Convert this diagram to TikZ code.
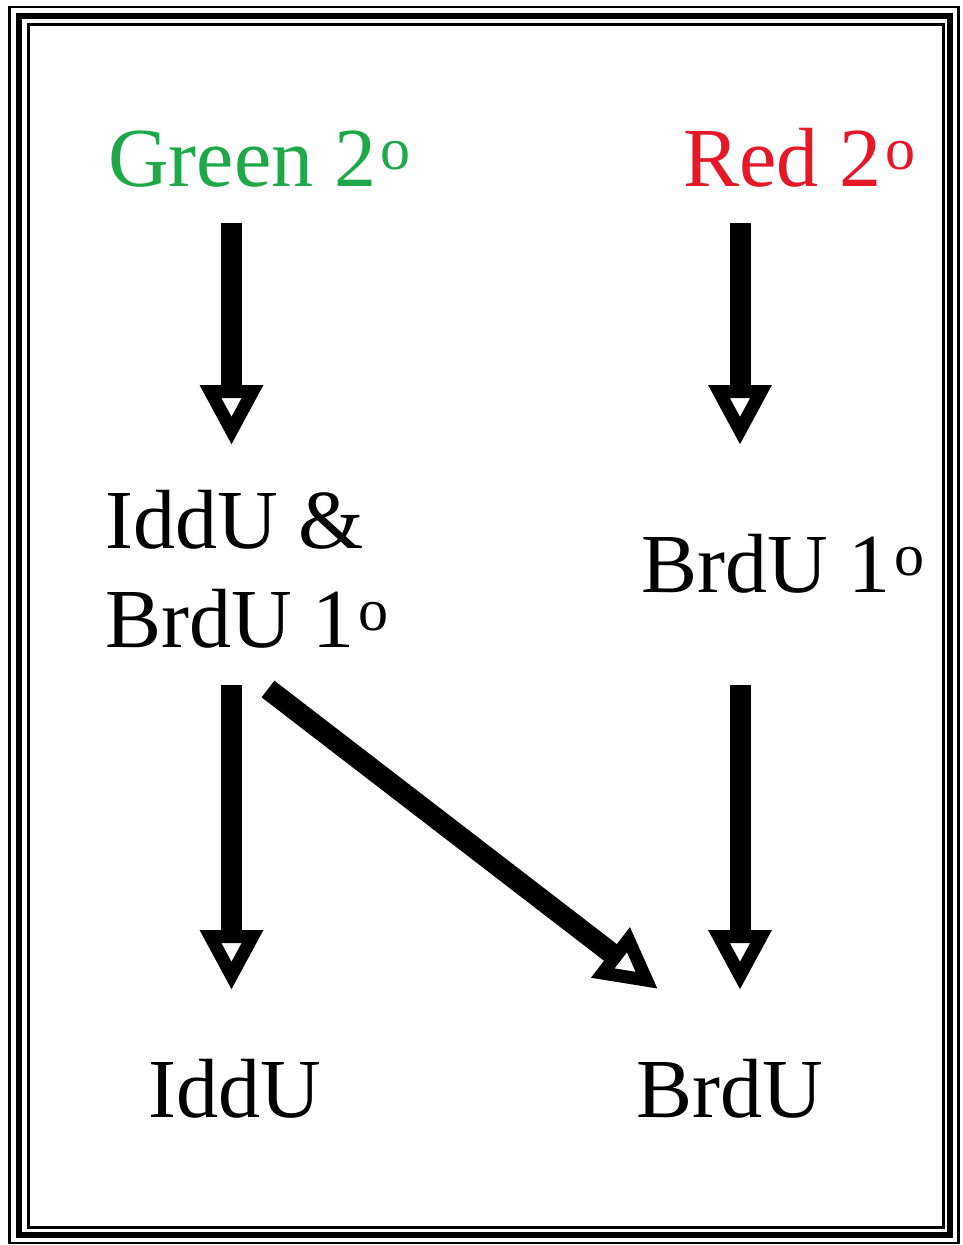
\documentclass[tikz,border=0pt]{standalone}
\usepackage{fontspec}
\setmainfont{Liberation Serif}
\usetikzlibrary{arrows.meta}
\definecolor{labgreen}{RGB}{30,168,74}
\definecolor{labred}{RGB}{230,24,40}
\newcommand\supo{\hspace{4pt}\raisebox{17pt}{\fontsize{60}{60}\selectfont o}}
\tikzset{
  lbl/.style={inner sep=0pt, anchor=base west, font=\fontsize{84}{99}\selectfont},
  bigarrow/.style={line width=21pt, line cap=butt,
    -{Triangle[open, length=60pt, width=60pt, line width=13pt]}},
}
\begin{document}
\begin{tikzpicture}[x=1pt,y=-1pt]
\useasboundingbox (0,0) rectangle (962,1245);
\fill[white] (0,0) rectangle (962,1245);
% frame
\draw[line width=2.5pt] (9.5,7) rectangle (958.5,1243);
\draw[line width=6pt] (18.5,15.5) rectangle (950,1235);
\draw[line width=3pt] (28.5,24.5) rectangle (943,1227);
% labels
\node[lbl, text=labgreen] (green) at (108,186) {Green 2\supo};
\node[lbl, text=labred] (red) at (683,186) {Red 2\supo};
\node[lbl] (mixA) at (105,548) {IddU \&};
\node[lbl] (mixB) at (105,647) {BrdU 1\supo};
\node[lbl] (brdprim) at (641,592) {BrdU 1\supo};
\node[lbl] (iddu) at (148,1117) {IddU};
\node[lbl] (brdu) at (636,1117) {BrdU};
% connector ends
\coordinate (gs) at (231.5,223);
\coordinate (ge) at (231.5,445);
\coordinate (rs) at (740,223);
\coordinate (re) at (740,445);
\coordinate (ms) at (231.5,685);
\coordinate (me) at (231.5,990);
\coordinate (ds) at (268,689);
\coordinate (de) at (658,989);
\coordinate (bs) at (740,685);
\coordinate (be) at (740,990);
\draw[bigarrow] (gs) -- (ge);
\draw[bigarrow] (rs) -- (re);
\draw[bigarrow] (ms) -- (me);
\draw[bigarrow] (ds) -- (de);
\draw[bigarrow] (bs) -- (be);
\end{tikzpicture}
\end{document}
